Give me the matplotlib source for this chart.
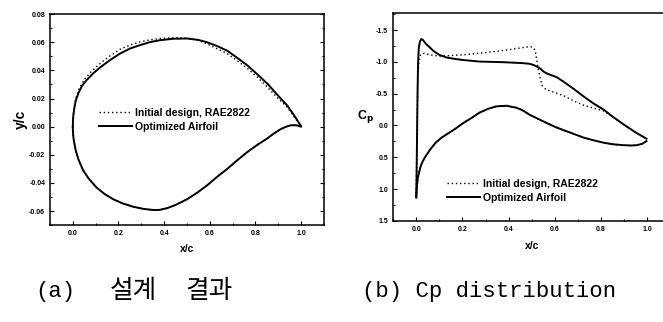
import matplotlib.pyplot as plt
from matplotlib.ticker import MultipleLocator

# (a) airfoil shape
init_up_x = [0.0, 0.001, 0.003, 0.007, 0.013, 0.025, 0.05, 0.08, 0.12, 0.16, 0.207, 0.25, 0.295, 0.34, 0.383,
             0.44, 0.50, 0.55, 0.589, 0.63, 0.677, 0.72, 0.765, 0.81, 0.853, 0.9, 0.94, 0.97, 1.0]
init_up_y = [0.0, 0.0055, 0.0095, 0.0145, 0.020, 0.026, 0.0335, 0.039, 0.045, 0.050, 0.055, 0.058, 0.0603, 0.0618, 0.0627,
             0.0633, 0.063, 0.0614, 0.0588, 0.0556, 0.0519, 0.047, 0.0414, 0.035, 0.028, 0.020, 0.0138, 0.007, 0.0]
opt_up_x = [0.0, 0.001, 0.003, 0.007, 0.013, 0.025, 0.04, 0.06, 0.09, 0.119, 0.16, 0.207, 0.25, 0.295, 0.34, 0.383,
            0.44, 0.50, 0.55, 0.589, 0.63, 0.677, 0.72, 0.765, 0.81, 0.853, 0.9, 0.94, 0.97, 1.0]
opt_up_y = [0.0, 0.005, 0.009, 0.0135, 0.0186, 0.024, 0.029, 0.033, 0.038, 0.042, 0.047, 0.052, 0.0555, 0.058, 0.0602, 0.0615,
            0.0625, 0.0627, 0.0617, 0.060, 0.0575, 0.054, 0.049, 0.0436, 0.037, 0.0305, 0.022, 0.015, 0.008, 0.0005]
low_x = [0.0, 0.001, 0.004, 0.013, 0.025, 0.045, 0.07, 0.104, 0.14, 0.178, 0.22, 0.266, 0.31, 0.354, 0.38, 0.413,
         0.45, 0.50, 0.545, 0.589, 0.63, 0.677, 0.72, 0.765, 0.81, 0.853, 0.88, 0.912, 0.935, 0.956, 0.98, 1.0]
init_low_y = [0.0, -0.005, -0.0095, -0.017, -0.0235, -0.031, -0.037, -0.0433, -0.048, -0.0517, -0.0547, -0.057, -0.0585, -0.0593, -0.0592, -0.058,
              -0.0557, -0.0517, -0.047, -0.0417, -0.036, -0.030, -0.024, -0.018, -0.0128, -0.0083, -0.005, -0.0017, 0.0, 0.001, 0.001, 0.0]
opt_low_y = [0.0, -0.005, -0.0095, -0.017, -0.0235, -0.031, -0.037, -0.0433, -0.048, -0.0517, -0.0547, -0.057, -0.0585, -0.0593, -0.0592, -0.058,
             -0.0557, -0.0517, -0.047, -0.0417, -0.036, -0.030, -0.024, -0.018, -0.0128, -0.0083, -0.005, -0.0017, 0.0, 0.001, 0.001, 0.0]

# (b) Cp distribution
init_cp_up_x = [0.0, 0.002, 0.004, 0.007, 0.013, 0.02, 0.035, 0.06, 0.10, 0.15, 0.20, 0.30, 0.40, 0.49, 0.505, 0.515,
                0.523, 0.53, 0.535, 0.545, 0.56, 0.59, 0.637, 0.68, 0.724, 0.77, 0.811, 0.85, 0.898, 0.95, 0.997]
init_cp_up = [1.13, 0.5, -0.2, -0.8, -1.05, -1.12, -1.135, -1.11, -1.09, -1.10, -1.11, -1.145, -1.19, -1.24, -1.23, -1.18,
              -1.0, -0.85, -0.77, -0.63, -0.57, -0.53, -0.47, -0.39, -0.32, -0.27, -0.23, -0.14, -0.016, 0.11, 0.208]
opt_cp_up_x = [0.0, 0.002, 0.004, 0.006, 0.008, 0.011, 0.016, 0.022, 0.03, 0.04, 0.055, 0.075, 0.10, 0.13, 0.16, 0.20,
               0.273, 0.375, 0.462, 0.49, 0.506, 0.52, 0.535, 0.55, 0.564, 0.585, 0.608, 0.637, 0.68, 0.724, 0.77,
               0.811, 0.85, 0.898, 0.95, 0.997]
opt_cp_up = [1.13, 0.6, 0.0, -0.6, -1.0, -1.22, -1.32, -1.36, -1.34, -1.29, -1.24, -1.17, -1.11, -1.07, -1.05, -1.03,
             -1.005, -0.995, -0.98, -0.97, -0.953, -0.93, -0.90, -0.85, -0.82, -0.79, -0.76, -0.69, -0.58, -0.458, -0.34,
             -0.25, -0.14, -0.016, 0.11, 0.208]
cp_low_x = [0.0, 0.003, 0.007, 0.012, 0.02, 0.03, 0.041, 0.06, 0.084, 0.11, 0.142, 0.17, 0.20, 0.24, 0.273, 0.31,
            0.346, 0.39, 0.433, 0.46, 0.49, 0.53, 0.564, 0.60, 0.637, 0.68, 0.724, 0.77, 0.81, 0.85, 0.898, 0.93,
            0.956, 0.98, 0.997]
init_cp_low = [1.13, 0.95, 0.82, 0.74, 0.63, 0.55, 0.48, 0.38, 0.27, 0.19, 0.115, 0.05, -0.03, -0.12, -0.20, -0.26,
               -0.30, -0.31, -0.28, -0.24, -0.17, -0.10, -0.04, 0.02, 0.073, 0.13, 0.19, 0.235, 0.27, 0.295, 0.31, 0.315,
               0.31, 0.285, 0.245]
opt_cp_low = [1.13, 0.95, 0.82, 0.74, 0.63, 0.55, 0.48, 0.38, 0.27, 0.19, 0.115, 0.05, -0.03, -0.12, -0.20, -0.26,
              -0.30, -0.31, -0.28, -0.24, -0.17, -0.10, -0.04, 0.02, 0.073, 0.13, 0.19, 0.235, 0.27, 0.295, 0.31, 0.315,
              0.31, 0.285, 0.245]

labels = ['Initial design, RAE2822', 'Optimized Airfoil']

plt.rcParams['font.family'] = ['Liberation Sans Narrow', 'Liberation Sans', 'DejaVu Sans']
plt.rcParams['font.weight'] = 'bold'

fig = plt.figure(figsize=(6.63, 3.22), dpi=100)
ax1 = fig.add_axes([0.0754, 0.301, 0.413, 0.655])
ax2 = fig.add_axes([0.593, 0.314, 0.418, 0.646])


def style(ax):
    ax.tick_params(which='both', direction='in', labelsize=5, width=0.8, right=True, top=False)
    ax.tick_params(which='major', length=3)
    ax.tick_params(which='minor', length=1.5)
    for s in ax.spines.values():
        s.set_linewidth(1.1)
    for lab in ax.get_xticklabels() + ax.get_yticklabels():
        lab.set_fontweight('bold')


dots = (0, (1, 2))

# --- (a)
ax1.plot(init_up_x, init_up_y, color='black', linestyle=dots, linewidth=1.0, label=labels[0])
ax1.plot(low_x, init_low_y, color='black', linestyle=dots, linewidth=1.0)
ax1.plot(opt_up_x, opt_up_y, color='black', linewidth=1.4, label=labels[1])
ax1.plot(low_x, opt_low_y, color='black', linewidth=1.4)
ax1.set_xlim(-0.1, 1.1)
ax1.set_ylim(-0.07, 0.08)
ax1.xaxis.set_major_locator(MultipleLocator(0.2))
ax1.xaxis.set_minor_locator(MultipleLocator(0.1))
ax1.yaxis.set_major_locator(MultipleLocator(0.02))
ax1.yaxis.set_minor_locator(MultipleLocator(0.01))
ax1.xaxis.set_major_formatter(lambda v, p: f'{v:.1f}')
ax1.yaxis.set_major_formatter(lambda v, p: f'{v:.2f}')
style(ax1)
ax1.set_xlabel('x/c', fontsize=7.5, fontweight='bold', labelpad=5)
ax1.set_ylabel('y/c', fontsize=10, fontweight='bold', labelpad=1)
ax1.legend(loc='center left', bbox_to_anchor=(0.16, 0.50), frameon=False, fontsize=7.5,
           handlelength=3.2, handletextpad=0.3, labelspacing=0.4, borderpad=0)

# --- (b)
ax2.plot(init_cp_up_x, init_cp_up, color='black', linestyle=dots, linewidth=1.0, label=labels[0])
ax2.plot(cp_low_x, init_cp_low, color='black', linestyle=dots, linewidth=1.0)
ax2.plot(opt_cp_up_x, opt_cp_up, color='black', linewidth=1.4, label=labels[1])
ax2.plot(cp_low_x, opt_cp_low, color='black', linewidth=1.4)
ax2.set_xlim(-0.1, 1.1)
ax2.set_ylim(1.5, -1.77)
ax2.xaxis.set_major_locator(MultipleLocator(0.2))
ax2.xaxis.set_minor_locator(MultipleLocator(0.1))
ax2.yaxis.set_major_locator(MultipleLocator(0.5))
ax2.yaxis.set_minor_locator(MultipleLocator(0.25))
ax2.xaxis.set_major_formatter(lambda v, p: f'{v:.1f}')
ax2.yaxis.set_major_formatter(lambda v, p: f'{v:.1f}')
style(ax2)
ax2.set_xlabel('x/c', fontsize=7.5, fontweight='bold', labelpad=6)
ax2.set_ylabel('C$_\\mathbf{p}$', fontsize=9, fontweight='bold', rotation=0, labelpad=8, va='center')
ax2.legend(loc='center left', bbox_to_anchor=(0.175, 0.145), frameon=False, fontsize=7.5,
           handlelength=3.2, handletextpad=0.3, labelspacing=0.4, borderpad=0)

cap = ['Liberation Mono', 'Noto Sans CJK KR']
kr = ['Noto Sans CJK KR']
fig.text(0.053, 0.095, '(a)', family=cap, fontsize=16, fontweight='normal', ha='left', va='center')
fig.text(0.166, 0.095, '설계', family=kr, fontsize=18.5, fontweight='normal', ha='left', va='center')
fig.text(0.279, 0.095, '결과', family=kr, fontsize=18.5, fontweight='normal', ha='left', va='center')
fig.text(0.546, 0.095, '(b) Cp distribution', family=cap, fontsize=16, fontweight='normal', ha='left', va='center')

fig.savefig('out.png', dpi=100)
